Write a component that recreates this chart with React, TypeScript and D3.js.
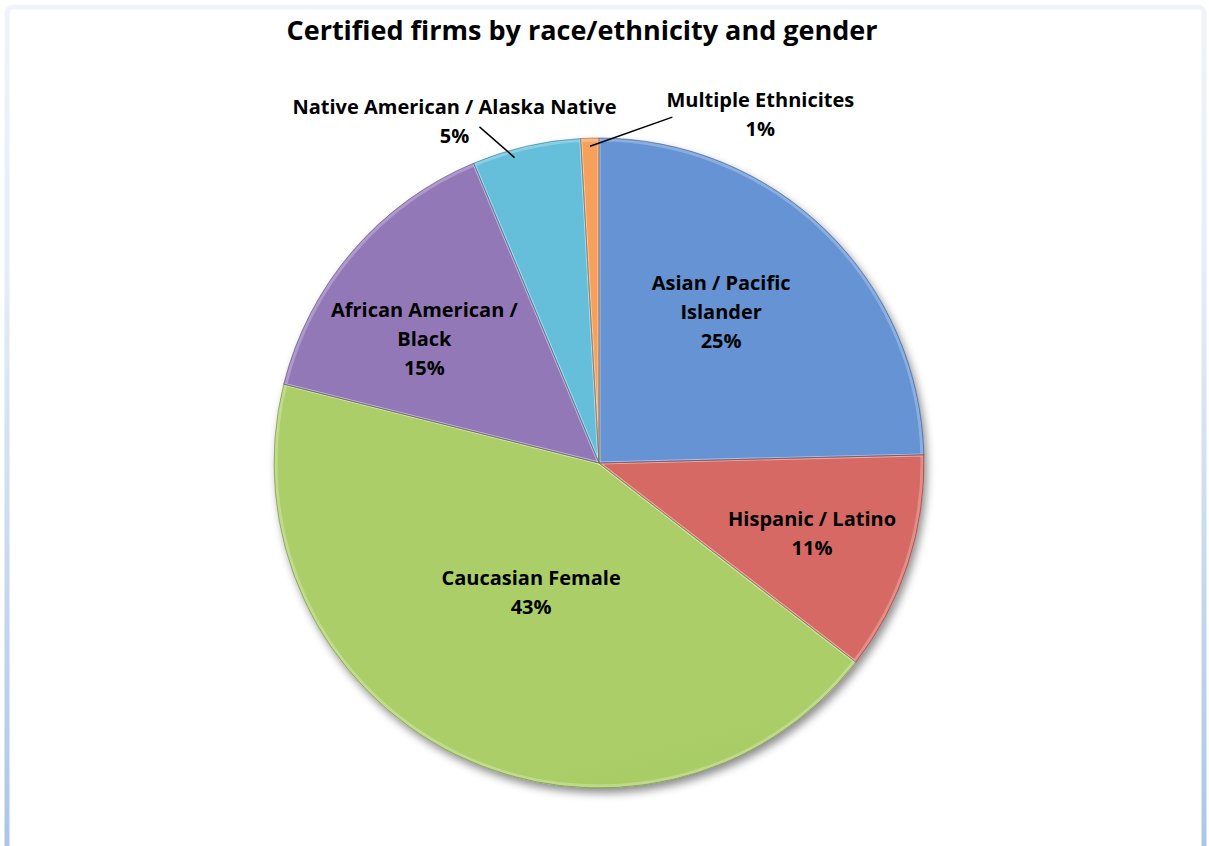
import React from 'react';
import * as d3 from 'd3';

// Data
const categories = [
  'Asian / Pacific Islander',
  'Hispanic / Latino',
  'Caucasian Female',
  'African American / Black',
  'Native American / Alaska Native',
  'Multiple Ethnicites',
];
const shares = [24.6, 10.9, 43.4, 14.8, 5.4, 0.9];
const colors = ['#457dcb', '#cf4a45', '#9ac44a', '#7d5caa', '#46b2d4', '#f48c3a'];

// how each label is broken into lines
const labelLines = [
  ['Asian / Pacific', 'Islander'],
  ['Hispanic / Latino'],
  ['Caucasian Female'],
  ['African American /', 'Black'],
  ['Native American / Alaska Native'],
  ['Multiple Ethnicites'],
];

const W = 1209;
const H = 846;
const cx = 599;
const cy = 463;
const R = 325;

// label placement: radius factor for inside labels, or an outside anchor
const labelPlace = [
  { k: 0.6, dx: -14, dy: -12 },
  { k: 0.69, dx: 0, dy: 0 },
  { k: 0.45, dx: -4, dy: -3 },
  { k: 0.66, dx: -12, dy: 15 },
  { k: 1.14, dx: 25, dy: 5, out: true, angle: -10, start: -2.5 },
  { k: 1.18, dx: -88, dy: 2, out: true, angle: 26.5, start: 0 },
];

const App = () => {
  const pie = d3.pie<number>().sort(null).value(d => d);
  const arcs = pie(shares);
  const arc = d3.arc<d3.PieArcDatum<number>>().innerRadius(0).outerRadius(R);
  const innerArc = d3.arc<d3.PieArcDatum<number>>().innerRadius(0).outerRadius(R - 2);
  const lineH = 29;
  const fmt = (v: number) => `${Math.round(v)}%`;

  return (
    <svg width={W} height={H} style={{ display: 'block', position: 'absolute', left: 0, top: 0 }}
      fontFamily="'Open Sans', Lato, sans-serif">
      <defs>
        <linearGradient id="frame" x1="0" y1="0" x2="0" y2="1">
          <stop offset="0" stopColor="#f0f4fa" />
          <stop offset="0.3" stopColor="#e6edf7" />
          <stop offset="1" stopColor="#a9c4e7" />
        </linearGradient>
        {colors.map((c, i) => (
          <linearGradient key={i} id={`g${i}`} gradientUnits="userSpaceOnUse"
            x1={cx - R * 0.3} y1={cy - R} x2={cx + R * 0.2} y2={cy + R}>
            <stop offset="0" stopColor={d3.interpolateRgb(c, '#ffffff')(0.17)} />
            <stop offset="0.5" stopColor={d3.interpolateRgb(c, '#ffffff')(0.07)} />
            <stop offset="1" stopColor={c} />
          </linearGradient>
        ))}
        <filter id="shadow" x="-10%" y="-10%" width="125%" height="125%">
          <feDropShadow dx="3" dy="5" stdDeviation="4" floodColor="#000" floodOpacity="0.45" />
        </filter>
      </defs>

      <rect x={7} y={7} width={W - 12} height={H + 20} rx={6} fill="#fff"
        stroke="url(#frame)" strokeWidth={5} />

      <text x={582} y={40} textAnchor="middle" fontSize={27} fontWeight="bold" fill="#000">
        Certified firms by race/ethnicity and gender
      </text>

      <g transform={`translate(${cx},${cy})`}>
        <g filter="url(#shadow)">
          {arcs.map((a, i) => (
            <path key={i} d={arc(a)!} fill={`url(#g${i})`} />
          ))}
        </g>
        {/* bevel highlight along slice edges */}
        {arcs.map((a, i) => (
          <path key={`b${i}`} d={innerArc(a)!}
            fill="none" stroke="#ffffff" strokeOpacity={0.25} strokeWidth={3} strokeLinejoin="round" />
        ))}
        {arcs.map((a, i) => (
          <path key={`e${i}`} d={arc(a)!} fill="none"
            stroke={d3.color(colors[i])!.darker(1).formatHex()} strokeOpacity={0.55} strokeWidth={1} />
        ))}

        {arcs.map((a, i) => {
          const p = labelPlace[i];
          const mid = (a.startAngle + a.endAngle) / 2;
          const lines = [...labelLines[i], fmt(shares[i])];
          if (p.out) {
            const ang = mid + ((p.angle as number) * Math.PI) / 180;
            const lx = Math.sin(ang) * R * p.k;
            const ly = -Math.cos(ang) * R * p.k;
            const sa = mid + ((p.start as number) * Math.PI) / 180;
            const sx = Math.sin(sa) * R * 0.975;
            const sy = -Math.cos(sa) * R * 0.975;
            const top = ly - (lines.length * lineH) / 2;
            return (
              <g key={`l${i}`}>
                <line x1={sx} y1={sy} x2={lx + p.dx} y2={ly + p.dy} stroke="#000" strokeWidth={1.5} />
                {lines.map((t, j) => (
                  <text key={j} x={lx} y={top + 21 + j * lineH} textAnchor="middle"
                    fontSize={20} fontWeight="bold" fill="#000">{t}</text>
                ))}
              </g>
            );
          }
          const lx = Math.sin(mid) * R * p.k + p.dx;
          const ly = -Math.cos(mid) * R * p.k + p.dy;
          const top = ly - (lines.length * lineH) / 2;
          return (
            <g key={`l${i}`}>
              {lines.map((t, j) => (
                <text key={j} x={lx} y={top + 22 + j * lineH} textAnchor="middle"
                  fontSize={20} fontWeight="bold" fill="#000">{t}</text>
              ))}
            </g>
          );
        })}
      </g>
    </svg>
  );
};

export default App;
